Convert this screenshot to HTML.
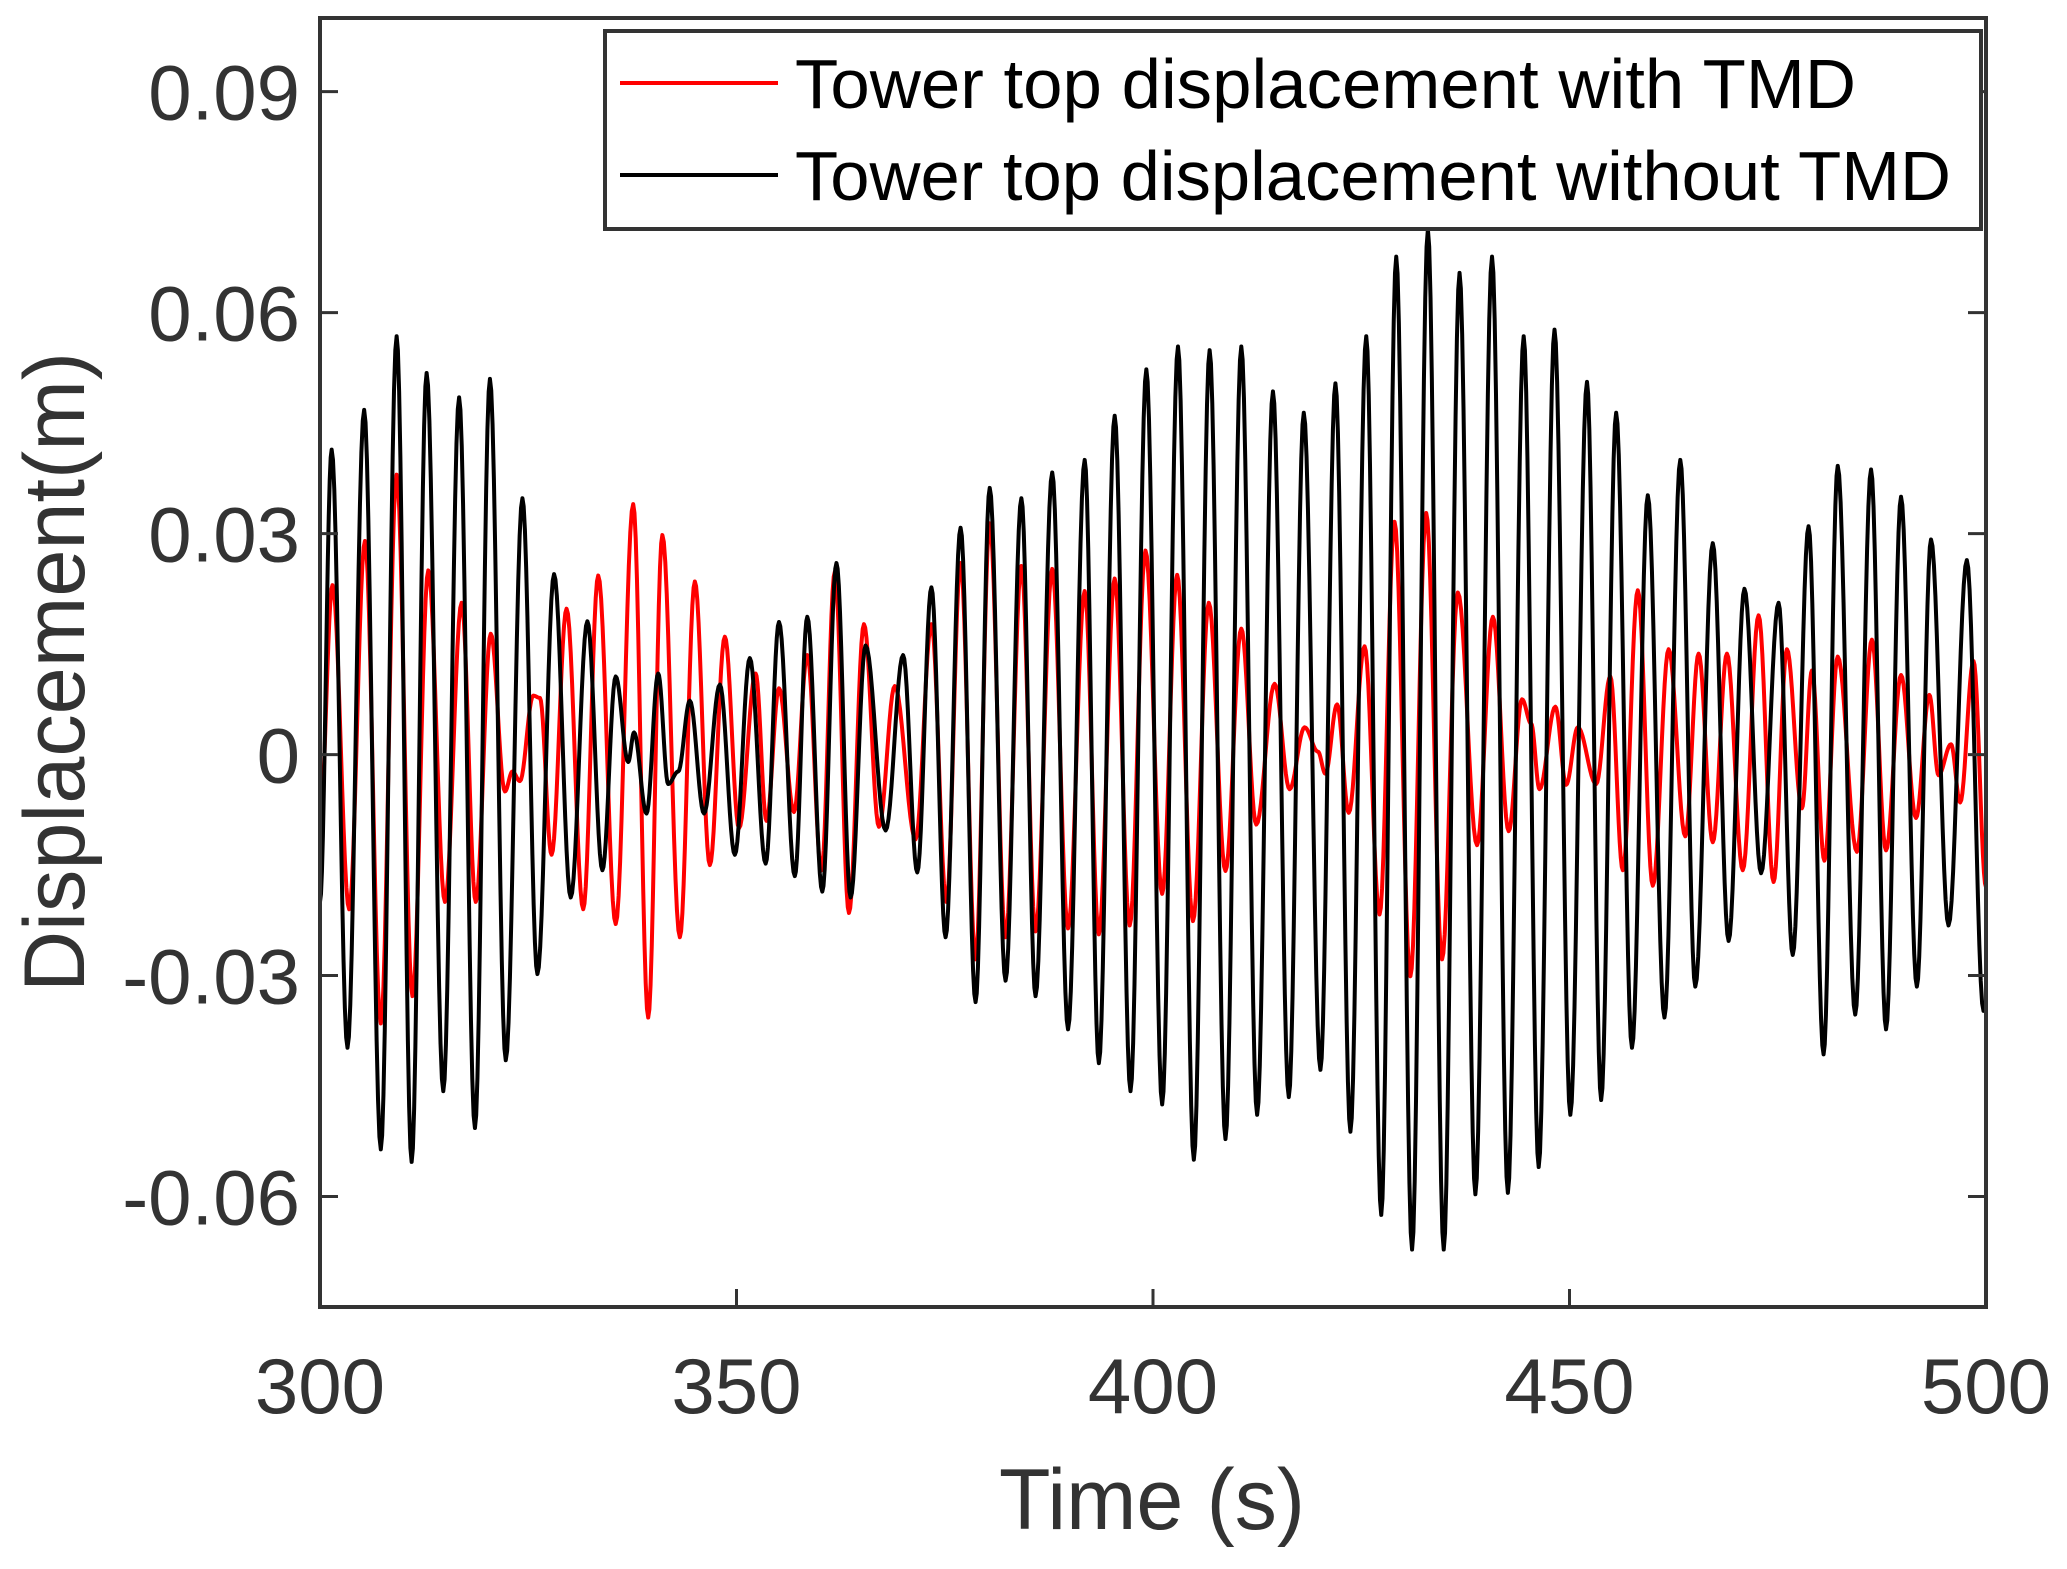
<!DOCTYPE html>
<html><head><meta charset="utf-8"><style>
html,body{margin:0;padding:0;background:#fff;}
svg{display:block;font-family:"Liberation Sans",Arial,sans-serif;}
</style></head><body>
<svg id="chart" width="2067" height="1569" viewBox="0 0 2067 1569">
<rect x="0" y="0" width="2067" height="1569" fill="#fff"/>
<g id="series"></g>
<g id="axes"></g>
</svg>
<script>
// ---- data (extrema) ----
const xTicks = [300, 350, 400, 450, 500];
const yTicks = [0.09, 0.06, 0.03, 0, -0.03, -0.06];
const yTickLabels = ["0.09", "0.06", "0.03", "0", "-0.03", "-0.06"];
const blackT = [300,301.4,303.3,305.3,307.3,309.2,311.0,312.8,314.8,316.7,318.6,320.4,322.3,324.3,326.1,328.1,330.1,332.1,333.9,335.5,337.0,337.7,339.2,340.6,341.8,343.0,344.4,346.1,348.0,349.8,351.6,353.5,355.1,357.0,358.5,360.3,362.0,363.7,365.5,367.9,370.0,371.7,373.4,375.1,376.9,378.7,380.4,382.3,384.2,385.9,387.9,389.8,391.8,393.5,395.4,397.3,399.2,401.1,403.0,404.9,406.8,408.7,410.6,412.5,414.4,416.3,418.1,420.1,421.9,423.7,425.6,427.4,429.2,431.1,433.0,434.9,436.8,438.7,440.7,442.6,444.5,446.3,448.2,450.1,452.1,453.8,455.6,457.5,459.4,461.4,463.3,465.1,467.2,469.1,471.0,473.0,475.1,476.8,478.7,480.5,482.2,484.3,486.2,488.0,489.8,491.7,493.4,495.5,497.7,499.7,500];
const blackV = [-0.02,0.0414,-0.0398,0.0468,-0.0536,0.0568,-0.0553,0.0518,-0.0457,0.0485,-0.0507,0.051,-0.0415,0.0348,-0.0298,0.0245,-0.0194,0.0181,-0.0157,0.0106,-0.001,0.003,-0.008,0.011,-0.004,-0.0023,0.0073,-0.008,0.0095,-0.0136,0.0131,-0.0148,0.018,-0.0165,0.0187,-0.0186,0.026,-0.0194,0.0148,-0.0103,0.0135,-0.016,0.0227,-0.0248,0.0308,-0.0336,0.0362,-0.0307,0.0348,-0.0328,0.0383,-0.0373,0.040,-0.0419,0.046,-0.0457,0.0523,-0.0475,0.0554,-0.055,0.0549,-0.0522,0.0554,-0.0489,0.0493,-0.0465,0.0464,-0.0428,0.0504,-0.0512,0.0568,-0.0625,0.0676,-0.0672,0.0713,-0.0672,0.0654,-0.0597,0.0676,-0.0595,0.0568,-0.056,0.0577,-0.0489,0.0506,-0.0469,0.0464,-0.0398,0.0352,-0.0357,0.040,-0.0315,0.0287,-0.0253,0.0225,-0.0161,0.0206,-0.0272,0.031,-0.0407,0.0392,-0.0353,0.0387,-0.0373,0.035,-0.0315,0.0292,-0.0232,0.0264,-0.0348,-0.0347];
const redT = [300,301.5,303.5,305.4,307.3,309.2,311.1,313.0,315.0,317.0,318.7,320.5,322.2,323.1,324.0,325.6,326.4,327.8,329.6,331.6,333.4,335.5,337.6,339.4,341.1,343.2,345.0,346.8,348.6,350.3,352.3,353.6,355.1,356.9,358.5,360.2,361.8,363.5,365.3,367.1,369.0,371.5,373.4,375.2,376.9,378.7,380.4,382.3,384.2,385.9,387.9,389.8,391.8,393.5,395.4,397.2,399.1,401.1,402.9,404.8,406.7,408.7,410.6,412.4,414.6,416.4,418.2,419.8,420.7,422.1,423.5,425.4,427.2,429.0,430.9,432.8,434.7,436.6,438.9,440.8,442.7,444.3,445.4,446.4,448.3,449.6,451.0,453.2,454.9,456.4,458.2,460.0,461.9,463.9,465.5,467.2,468.9,470.8,472.7,474.5,476.1,477.9,479.1,480.6,482.2,484.5,486.3,488.0,489.8,491.6,493.2,494.3,495.8,496.9,498.5,500];
const redV = [-0.009,0.023,-0.021,0.029,-0.0365,0.038,-0.0328,0.025,-0.020,0.0206,-0.020,0.0164,-0.005,-0.0023,-0.0036,0.008,0.0077,-0.0136,0.0198,-0.021,0.0243,-0.023,0.034,-0.0357,0.0298,-0.0248,0.0235,-0.015,0.016,-0.010,0.011,-0.009,0.009,-0.0078,0.0135,-0.0157,0.0248,-0.0215,0.0177,-0.0098,0.0093,-0.0115,0.0177,-0.020,0.026,-0.0278,0.0314,-0.0248,0.0256,-0.024,0.0252,-0.0236,0.0222,-0.0244,0.0239,-0.0232,0.0277,-0.0189,0.0244,-0.0226,0.0206,-0.0158,0.0171,-0.0095,0.0096,-0.0047,0.0037,0.0004,-0.0026,0.0068,-0.0079,0.0147,-0.0217,0.0316,-0.0301,0.0328,-0.0278,0.022,-0.0123,0.0187,-0.0104,0.0075,0.0042,-0.0047,0.0065,-0.0041,0.0037,-0.004,0.0106,-0.0157,0.0223,-0.0178,0.0143,-0.0111,0.0137,-0.0119,0.0137,-0.0157,0.0189,-0.0173,0.0143,-0.0073,0.0114,-0.0144,0.0133,-0.0132,0.0156,-0.013,0.0108,-0.0086,0.0081,-0.0028,0.0014,-0.0065,0.0127,-0.018];

// ---- layout ----
const L=320, R=1986, T=18, B=1307;
const xMin=300, xMax=500, yMin=-0.075, yMax=0.1;
const xs = t => L + (t - xMin) / (xMax - xMin) * (R - L);
const ys = v => B - (v - yMin) / (yMax - yMin) * (B - T);
const NS="http://www.w3.org/2000/svg";
const series=document.getElementById('series');
const axes=document.getElementById('axes');
function mk(tag, attrs, parent){const e=document.createElementNS(NS,tag);for(const k in attrs)e.setAttribute(k,attrs[k]);parent.appendChild(e);return e;}

function pathFor(ts, vs){
  let d='M'+xs(ts[0]).toFixed(2)+','+ys(vs[0]).toFixed(2);
  for(let i=0;i<ts.length-1;i++){
    const n=12;
    for(let k=1;k<=n;k++){
      const f=k/n, w=(1-Math.cos(Math.PI*f))/2;
      const t=ts[i]+(ts[i+1]-ts[i])*f, v=vs[i]+(vs[i+1]-vs[i])*w;
      d+='L'+xs(t).toFixed(2)+','+ys(v).toFixed(2);
    }
  }
  return d;
}
const clip=mk('clipPath',{id:'plotclip'},series);
mk('rect',{x:L,y:T,width:R-L,height:B-T},clip);
const redLine=mk('path',{d:pathFor(redT,redV),fill:'none',stroke:'#ff0000','stroke-width':4,'stroke-linejoin':'round','clip-path':'url(#plotclip)'},series);


const blackLine=mk('path',{d:pathFor(blackT,blackV),fill:'none',stroke:'#000','stroke-width':4,'stroke-linejoin':'round','clip-path':'url(#plotclip)'},series);



// axes box
const box=mk('rect',{x:L,y:T,width:R-L,height:B-T,fill:'none',stroke:'#333','stroke-width':4},axes);


// y ticks
yTicks.forEach((v,i)=>{
  const y=ys(v);
  mk('line',{x1:L,y1:y,x2:L+18,y2:y,stroke:'#333','stroke-width':3},axes);
  mk('line',{x1:R,y1:y,x2:R-18,y2:y,stroke:'#333','stroke-width':3},axes);
  const tx=mk('text',{x:300,y:y+28,'text-anchor':'end','font-size':78,fill:'#333'},axes);
  tx.textContent=yTickLabels[i];
  
  
});
// x ticks
xTicks.forEach(t=>{
  const x=xs(t);
  mk('line',{x1:x,y1:B,x2:x,y2:B-18,stroke:'#333','stroke-width':3},axes);
  const tx=mk('text',{x:x,y:1413,'text-anchor':'middle','font-size':78,fill:'#333'},axes);
  tx.textContent=String(t);
  
  
});
</script>
<svg width="0" height="0" style="position:absolute"></svg>
<script>
(function(){
const NS="http://www.w3.org/2000/svg";
const svg=document.getElementById('chart');
function mk(tag, attrs){const e=document.createElementNS(NS,tag);for(const k in attrs)e.setAttribute(k,attrs[k]);svg.appendChild(e);return e;}
const xl=mk('text',{x:1152,y:1529,'text-anchor':'middle','font-size':86,fill:'#333',textLength:306,lengthAdjust:'spacingAndGlyphs'});
xl.textContent='Time (s)';


const yl=mk('text',{x:0,y:0,'text-anchor':'middle','font-size':86,fill:'#333',textLength:640,lengthAdjust:'spacingAndGlyphs',transform:'translate(84,672) rotate(-90)'});
yl.textContent='Displacement(m)';


const lg=mk('rect',{x:605,y:31,width:1376,height:198,fill:'#fff',stroke:'#333','stroke-width':4});


const l1=mk('line',{x1:620,y1:83,x2:778,y2:83,stroke:'#ff0000','stroke-width':4});


const l2=mk('line',{x1:620,y1:175,x2:778,y2:175,stroke:'#000','stroke-width':4});


const t1=mk('text',{x:795,y:108,'font-size':70,fill:'#000',textLength:1061,lengthAdjust:'spacingAndGlyphs'});
t1.textContent='Tower top displacement with TMD';


const t2=mk('text',{x:795,y:200,'font-size':70,fill:'#000',textLength:1156,lengthAdjust:'spacingAndGlyphs'});
t2.textContent='Tower top displacement without TMD';


})();
</script>
</body></html>
